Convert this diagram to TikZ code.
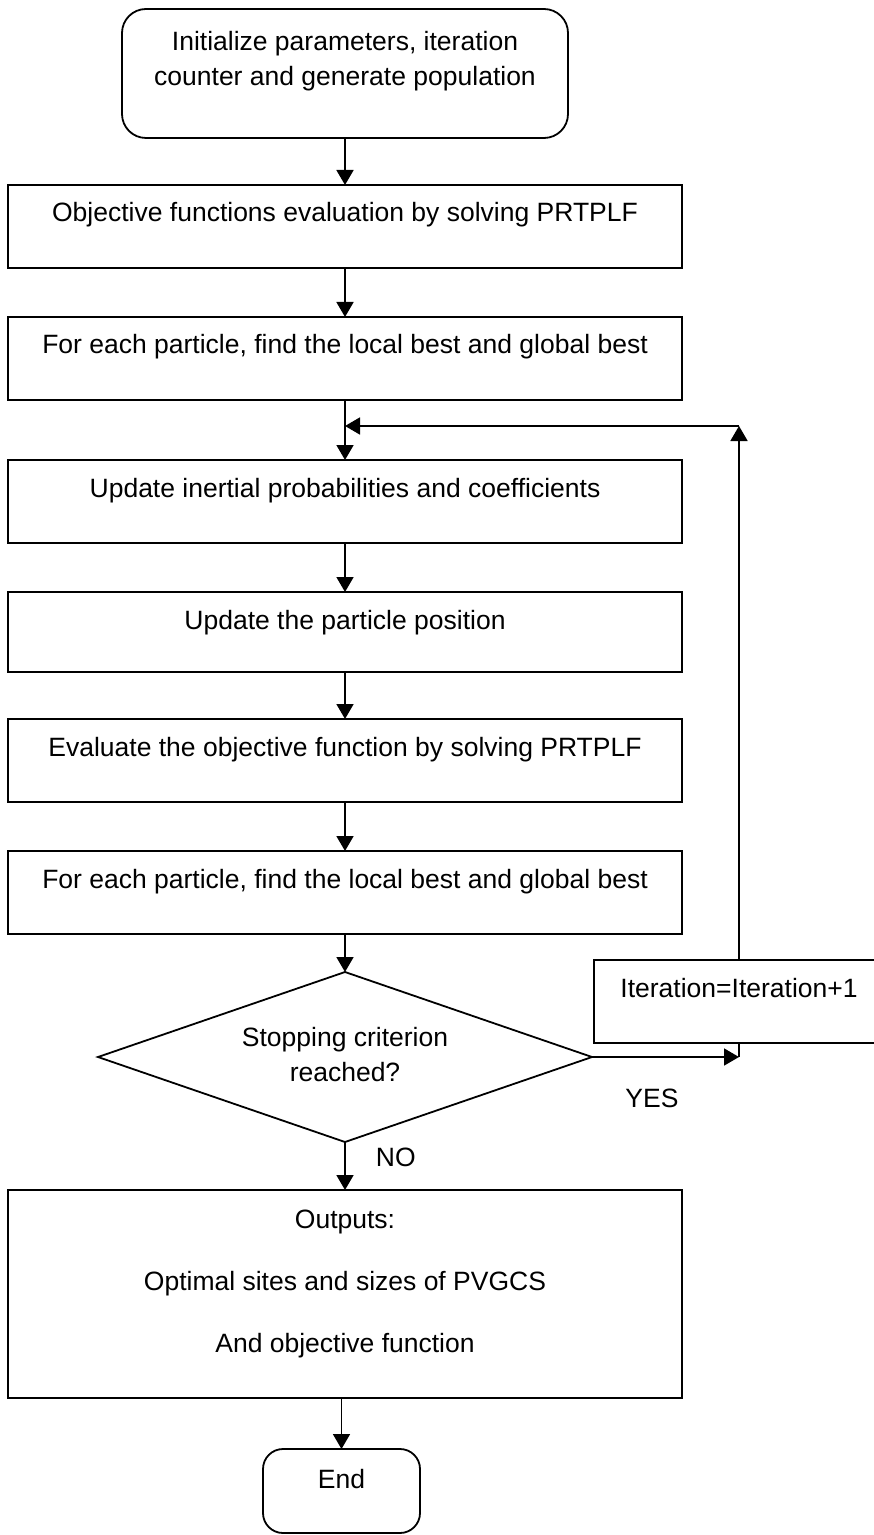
\documentclass[tikz,border=0pt]{standalone}
\usepackage{fontspec}
\setmainfont{Liberation Sans}
\usetikzlibrary{positioning, arrows.meta, shapes.geometric}

\newcommand{\toplines}[1]{\begin{tabular}[t]{@{}c@{}}#1\end{tabular}}

\begin{document}
\begin{tikzpicture}[x=0.5pt, y=-0.5pt, font=\fontsize{13.25}{17.5}\selectfont, line width=0.9pt]
        \tikzstyle{process} = [rectangle, draw, minimum width=337pt, inner sep=0pt, outer sep=0pt, text height=18.5pt, text depth=23pt]
        \tikzstyle{terminal} = [rectangle, draw, rounded corners=12pt, inner sep=0pt, outer sep=0pt]
        \tikzstyle{decision} = [diamond, draw, aspect=2.9, minimum width=247pt, minimum height=85pt, inner sep=0pt, outer sep=0pt]
        \tikzstyle{arrow} = [-{Triangle[length=7.5pt, width=8.5pt]}]
        \tikzstyle{tag} = [inner sep=0pt]

        \useasboundingbox (0,0) rectangle (873,1535);

        \node [terminal, minimum width=223pt, text height=21pt, text depth=43.5pt] (start) at (345,73.5) {\toplines{Initialize parameters, iteration\\counter and generate population}};
        \node [process, below=23.5pt of start] (eval1) {Objective functions evaluation by solving PRTPLF};
        \node [process, below=24.5pt of eval1] (best1) {For each particle, find the local best and global best};
        \node [process, below=30pt of best1] (update) {Update inertial probabilities and coefficients};
        \node [process, below=24.5pt of update, text depth=21.5pt] (move) {Update the particle position};
        \node [process, below=23.5pt of move] (eval2) {Evaluate the objective function by solving PRTPLF};
        \node [process, below=24.5pt of eval2] (best2) {For each particle, find the local best and global best};
        \node [decision, below=19pt of best2] (stop) {\begin{tabular}{@{}c@{}}Stopping criterion\\reached?\end{tabular}};
        \node [process, below=24pt of stop, text height=19pt, text depth=85pt] (out) {\toplines{Outputs:\\[13.5pt]Optimal sites and sizes of PVGCS\\[13.5pt]And objective function}};
        \node [terminal, minimum width=78.5pt, text height=19.5pt, text depth=22.5pt, rounded corners=10pt, anchor=north] (end) at (341.5,1449) {End};

        \node [process, minimum width=145pt, anchor=north west] (iter) at (594,960) {Iteration=Iteration+1};

        \node [tag] (yes) at (652,1098) {YES};
        \node [tag, anchor=west] (no) at (375,1157) {NO};

        \coordinate (yescorner) at (iter.south |- stop.east);
        \coordinate (loopcorner) at (739,426);
        \coordinate (loopjoin) at (best1.south |- loopcorner);

        \draw [arrow] (start) -- (eval1);
        \draw [arrow] (eval1) -- (best1);
        \draw [arrow] (best1) -- (update);
        \draw [arrow] (update) -- (move);
        \draw [arrow] (move) -- (eval2);
        \draw [arrow] (eval2) -- (best2);
        \draw [arrow] (best2) -- (stop);
        \draw [arrow] (stop) -- (out);
        \draw [arrow] (out.south -| end.north) -- (end);
        \draw [arrow] (stop.east) -- (yescorner);
        \draw (yescorner) -- (iter.south);
        \draw [arrow] (iter.north) -- (loopcorner);
        \draw [arrow] (loopcorner) -- (loopjoin);
    \end{tikzpicture}
\end{document}
